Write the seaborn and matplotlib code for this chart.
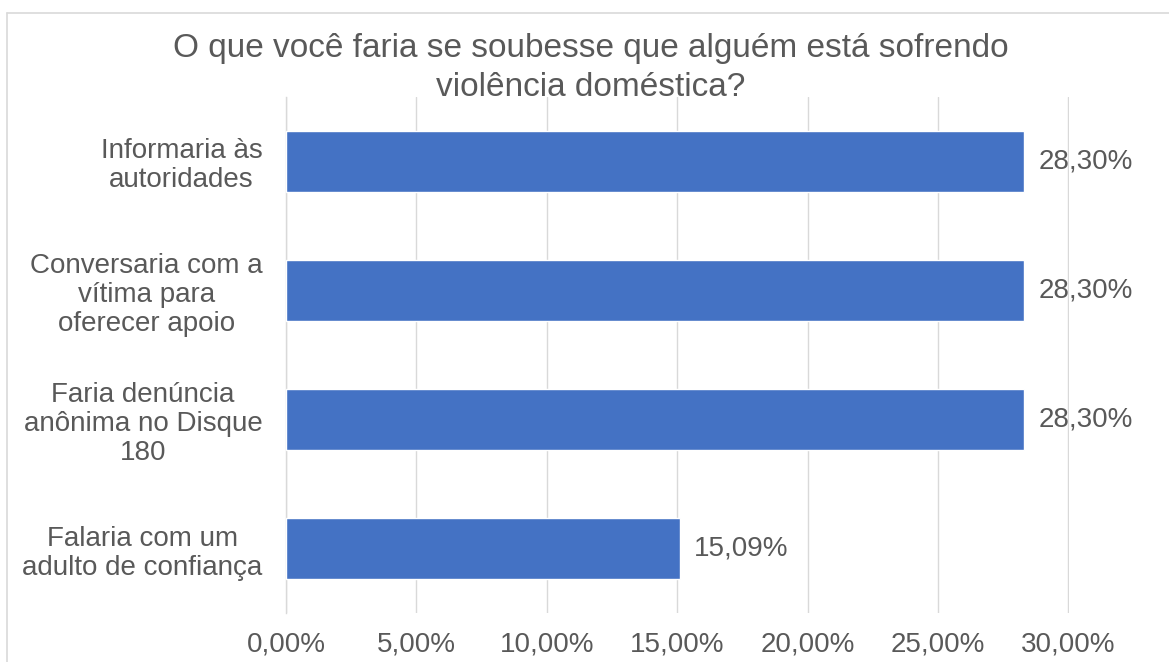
import matplotlib
matplotlib.use("Agg")
import matplotlib.pyplot as plt
import seaborn as sns
import pandas as pd
from matplotlib.ticker import FuncFormatter, FixedLocator
from matplotlib.lines import Line2D

# dados
respostas = [
    "Informaria às\nautoridades",
    "Conversaria com a\nvítima para\noferecer apoio",
    "Faria denúncia\nanônima no Disque\n180",
    "Falaria com um\nadulto de confiança",
]
percentuais = [28.30, 28.30, 28.30, 15.09]
xticks = [0, 5, 10, 15, 20, 25, 30]

df = pd.DataFrame({"resposta": respostas, "pct": percentuais})

sns.set_style("white")
plt.rcParams["font.family"] = ["Liberation Sans", "DejaVu Sans"]

fig = plt.figure(figsize=(11.69, 6.62), dpi=100)
ax = fig.add_axes([0.2447, 0.074, 0.9145 - 0.2447, 0.8535 - 0.074])

sns.barplot(data=df, x="pct", y="resposta", color="#4472C4", width=0.47,
            saturation=1, ax=ax, zorder=3)

texto = "#595959"
ax.set_xlim(0, 30.03)
ax.set_ylim(len(respostas) - 0.5, -0.5)
ax.xaxis.set_major_locator(FixedLocator(xticks))
ax.xaxis.set_major_formatter(FuncFormatter(lambda v, p: f"{v:.2f}%".replace(".", ",")))
ax.grid(axis="x", color="#D9D9D9", linewidth=1, zorder=0)
ax.set_xlabel("")
ax.set_ylabel("")

for s in ["top", "right", "bottom"]:
    ax.spines[s].set_visible(False)
ax.spines["left"].set_color("#D9D9D9")
ax.spines["left"].set_linewidth(1)

ax.tick_params(axis="x", length=0, labelsize=20, labelcolor=texto, pad=13)
ax.tick_params(axis="y", which="major", length=0, labelsize=20, labelcolor=texto, pad=17)
ax.set_yticks([i - 0.5 for i in range(len(respostas) + 1)], minor=True)
ax.tick_params(axis="y", which="minor", length=5, color="#D9D9D9", width=1)
for lbl in ax.get_yticklabels():
    lbl.set_multialignment("center")
    lbl.set_linespacing(1.15)

for i, v in enumerate(percentuais):
    ax.text(v + 0.55, i, f"{v:.2f}%".replace(".", ","), va="center", ha="left",
            fontsize=20, color=texto)

fig.text(0.505, 0.897, "O que você faria se soubesse que alguém está sofrendo\nviolência doméstica?",
         ha="center", va="center", fontsize=24, color=texto, linespacing=1.33)

# moldura do grafico
fig.add_artist(Line2D([7 / 1169, 7 / 1169], [0, 1 - 13 / 662], transform=fig.transFigure,
                      color="#D9D9D9", linewidth=1.2))
fig.add_artist(Line2D([7 / 1169, 1], [1 - 13 / 662, 1 - 13 / 662], transform=fig.transFigure,
                      color="#D9D9D9", linewidth=1.2))

fig.savefig("out.png", dpi=100)
